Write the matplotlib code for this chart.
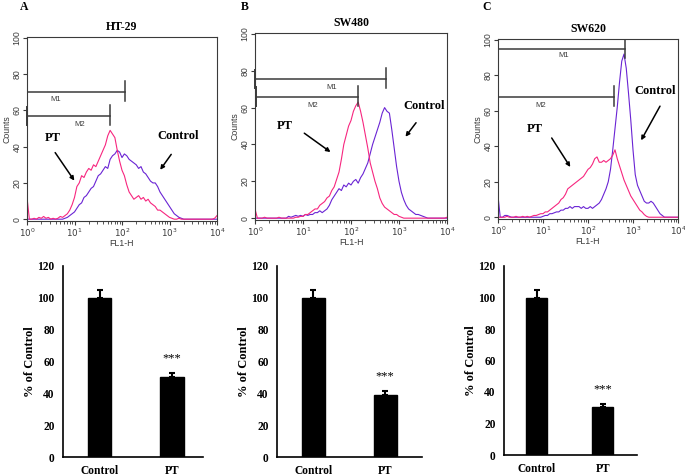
import matplotlib
matplotlib.use('Agg')
import matplotlib.pyplot as plt
import numpy as np

# ~~~~~~~~~~~~~~~~~~~~~~~~~~
# DATA
# ~~~~~~~~~~~~~~~~~~~~~~~~~~

# channel positions in decades (log10 of FL1-H), 0.05 decade steps
channels = np.linspace(0, 4, 81)

# HT-29
ht29_pt = [12, 0, 0, 0.5, 0, 1, 0.5, 1.5, 0.5, 1, 0, 0.5, 0, 0.5, 1.5, 1, 2, 3, 5, 8,
           12, 18, 20, 24, 23, 26, 28, 27, 30, 29, 32, 35, 38, 41, 46, 49, 47, 45, 38, 32,
           27, 24, 19, 15, 13, 11, 12, 13, 11, 12, 10, 11, 9, 8, 7, 5, 5, 4, 3, 2,
           1, 0.5, 0, 0, 0.5, 0, 0, 0, 0, 0, 0, 0, 0, 0, 0, 0, 0, 0, 0, 0.5, 2]
ht29_ctrl = [0, 0, 0, 0, 0, 0, 0, 0, 0, 0, 0, 0, 0, 0, 0, 0, 0.5, 1, 2, 3,
             4, 6, 8, 9, 12, 13, 15, 17, 18, 21, 24, 25, 27, 29, 28, 33, 35, 36, 38, 37,
             34, 36, 35, 33, 32, 31, 30, 28, 29, 26, 25, 23, 21, 20, 20, 18, 15, 13, 11, 9,
             7, 5, 3, 2, 1, 0.5, 0, 0, 0, 0, 0, 0, 0, 0, 0, 0, 0, 0, 0, 0, 0]

# SW480
sw480_pt = [5, 0, 0, 0, 0.5, 0, 0, 0, 0, 0, 0.5, 0, 0, 0, 0, 0, 0, 0.5, 0.5, 1,
            1, 2, 2, 3, 4, 5, 5, 7, 8, 9, 11, 12, 15, 17, 21, 25, 32, 40, 45, 50,
            53, 58, 61, 63, 58, 52, 45, 38, 30, 25, 20, 16, 11, 8, 6, 5, 4, 3, 2, 2,
            1, 0.5, 0, 0, 0, 0, 0, 0, 0, 0, 0, 0, 0, 0, 0, 0, 0, 0, 0, 0, 0.5]
sw480_ctrl = [0, 0, 0, 0, 0, 0, 0, 0, 0, 0, 0, 0, 0, 0, 1, 0.5, 1, 1.5, 1, 1.5,
              1, 2, 1.5, 2, 2, 3, 3, 4, 3, 4, 5, 7, 10, 12, 14, 16, 15, 18, 17, 19,
              18, 20, 21, 19, 22, 24, 27, 30, 35, 40, 44, 48, 52, 57, 60, 58, 57, 48, 38, 28,
              20, 14, 10, 7, 5, 4, 3, 2, 2, 1.5, 1, 0.5, 0, 0, 0, 0, 0, 0, 0, 0, 0]

# SW620
sw620_pt = [0, 0, 0, 0, 0.5, 0, 0, 0, 0.5, 0, 0, 0.5, 0, 0.5, 0, 0.5, 1, 1, 1.5, 2,
            2, 3, 3, 4, 5, 6, 7, 8, 10, 11, 13, 16, 17, 18, 19, 20, 21, 22, 23, 25,
            27, 28, 30, 33, 34, 31, 31, 32, 31, 32, 33, 35, 38, 33, 29, 25, 21, 18, 15, 12,
            10, 8, 6, 4, 3, 1.5, 0.5, 0, 0, 0, 0, 0, 0, 0, 0, 0, 0, 0, 0, 0, 0]
sw620_ctrl = [12, 0, 0, 1, 1, 0.5, 0, 0, 0, 0, 0, 0, 0, 0, 0, 0, 0, 0, 0, 0,
              0.5, 1, 1, 2, 2, 2.5, 3, 3, 4, 4, 5, 5, 6, 5, 6, 6, 6, 5, 6, 5,
              5, 6, 5, 6, 7, 8, 10, 13, 16, 20, 27, 38, 50, 62, 76, 88, 92, 84, 70, 55,
              38, 24, 18, 15, 12, 9, 8, 8, 9, 8, 6, 4, 2, 1, 0, 0, 0, 0, 0, 0, 0]

cell_lines = ['HT-29', 'SW480', 'SW620']
panel_letters = ['A', 'B', 'C']
pt_curves = [ht29_pt, sw480_pt, sw620_pt]
ctrl_curves = [ht29_ctrl, sw480_ctrl, sw620_ctrl]

# marker gates: (level, start decade, end decade, left tick?)
m1_gates = [(70, 0.0, 2.06, False), (75.5, 0.0, 2.73, True), (95, 0.0, 2.82, False)]
m2_gates = [(57, 0.0, 1.75, True), (66, 0.03, 2.15, True), (68, 0.0, 2.57, False)]

# bar charts
groups = ['Control', 'PT']
bar_means = [[100, 50], [100, 39], [100, 30.5]]
bar_errs = [[5, 3], [5, 2.5], [5, 2]]

pink = '#f7267f'
purple = '#6a24d4'
gray = '#3a3a3a'

# ~~~~~~~~~~
# PLOTTING
# ~~~~~~~~~~

W, H = 685, 476
fig = plt.figure(figsize=(W / 100, H / 100), dpi=100)

def px_axes(l, t, r, b):
    return fig.add_axes([l / W, 1 - b / H, (r - l) / W, (b - t) / H])

hist_boxes = [(27, 37, 217, 221), (255, 33, 447, 220), (498, 39, 678, 219)]
bar_boxes = [(63, 266, 203, 457), (277, 266, 422, 457), (504, 266, 637, 455)]
bar_xlims = [(-0.51, 1.43), (-0.5, 1.51), (-0.5, 1.52)]

# label positions (decade, count)
pt_text = [(0.55, 45), (0.63, 50), (0.82, 50)]
pt_arrow = [((0.56, 38), (1.03, 20)), ((0.98, 47), (1.62, 35)), ((1.16, 46), (1.64, 27))]
ctrl_text = [(3.19, 46), (3.53, 61), (3.49, 71)]
ctrl_arrow = [((3.07, 37), (2.77, 26)), ((3.39, 53), (3.1, 43)), ((3.63, 64), (3.15, 42))]
m1_label = [(0.6, 66), (1.6, 71), (1.45, 91)]
m2_label = [(1.1, 52), (1.2, 61), (0.95, 63)]
letter_x = [24, 245, 487]

serif = 'Liberation Serif'
sans = 'Liberation Sans'

for k in range(3):
    ax = px_axes(*hist_boxes[k])
    x = 10 ** channels
    ax.plot(x, ctrl_curves[k], color=purple, lw=0.8)
    ax.plot(x, pt_curves[k], color=pink, lw=0.8)
    ax.set_xscale('log')
    ax.set_xlim(1, 1e4)
    ax.set_ylim(-1, 100.5)
    ax.set_yticks([0, 20, 40, 60, 80, 100])
    for sp in ax.spines.values():
        sp.set_color(gray)
        sp.set_linewidth(0.8)
    ax.tick_params(axis='both', which='both', color=gray, labelcolor=gray, labelsize=6.3, direction='out')
    ax.tick_params(axis='both', which='major', length=3, pad=1)
    ax.tick_params(axis='x', which='minor', length=2)
    ax.tick_params(axis='y', labelrotation=90)
    for lab in ax.get_yticklabels():
        lab.set_verticalalignment('center')
        lab.set_fontfamily(sans)
    ax.set_xlabel('FL1-H', fontsize=6.3, color=gray, family=sans, labelpad=0)
    ax.set_ylabel('Counts', fontsize=6.3, color=gray, family=sans, labelpad=1)
    ax.set_title(cell_lines[k], fontsize=8.5, fontweight='bold', family=serif, pad=5)

    # gates
    for (lev, a, b, left_tick) in (m1_gates[k], m2_gates[k]):
        ax.plot([10 ** a, 10 ** b], [lev, lev], color=gray, lw=1.1)
        ax.plot([10 ** b, 10 ** b], [lev - 5, lev + 6], color=gray, lw=1.1)
        if left_tick:
            ax.plot([10 ** a, 10 ** a], [lev - 5, lev + 5], color=gray, lw=1.4, clip_on=False)
    ax.text(10 ** m1_label[k][0], m1_label[k][1], 'M1', fontsize=5.5, color=gray, family=sans, ha='center', va='center')
    ax.text(10 ** m2_label[k][0], m2_label[k][1], 'M2', fontsize=5.5, color=gray, family=sans, ha='center', va='center')

    ax.text(10 ** pt_text[k][0], pt_text[k][1], 'PT', fontsize=9, fontweight='bold', family=serif, ha='center', va='center')
    ax.text(10 ** ctrl_text[k][0], ctrl_text[k][1], 'Control', fontsize=9, fontweight='bold', family=serif, ha='center', va='center')
    (s0, s1), (e0, e1) = pt_arrow[k]
    ax.annotate('', xy=(10 ** e0, e1), xytext=(10 ** s0, s1),
                arrowprops=dict(arrowstyle='-|>', color='black', lw=1.1, mutation_scale=6))
    (s0, s1), (e0, e1) = ctrl_arrow[k]
    ax.annotate('', xy=(10 ** e0, e1), xytext=(10 ** s0, s1),
                arrowprops=dict(arrowstyle='-|>', color='black', lw=1.1, mutation_scale=6))

    fig.text(letter_x[k] / W, 1 - 7 / H, panel_letters[k], fontsize=8.5, fontweight='bold',
             family=serif, ha='center', va='center')

    # bar chart
    bx = px_axes(*bar_boxes[k])
    pos = np.arange(len(groups))
    bx.bar(pos, bar_means[k], width=0.32, color='black', edgecolor='black')
    bx.errorbar(pos, bar_means[k], yerr=[[0, 0], bar_errs[k]], fmt='none', ecolor='black',
                elinewidth=1.5, capsize=2.2, capthick=1.5)
    bx.text(1, bar_means[k][1] + bar_errs[k][1] + 9, '***', fontsize=9, family=serif, ha='center', va='center')
    bx.set_xlim(*bar_xlims[k])
    bx.set_ylim(0, 120)
    bx.set_yticks([0, 20, 40, 60, 80, 100, 120])
    bx.set_xticks(pos)
    bx.set_xticklabels(groups)
    bx.spines['top'].set_visible(False)
    bx.spines['right'].set_visible(False)
    bx.spines['left'].set_linewidth(1.2)
    bx.spines['bottom'].set_linewidth(1.2)
    bx.tick_params(length=0, labelsize=8.3, pad=6)
    for lab in bx.get_xticklabels() + bx.get_yticklabels():
        lab.set_fontfamily(serif)
        lab.set_fontweight('bold')
    bx.set_ylabel('% of Control', fontsize=9, fontweight='bold', family=serif, labelpad=1)

plt.savefig('out.png', dpi=100)
